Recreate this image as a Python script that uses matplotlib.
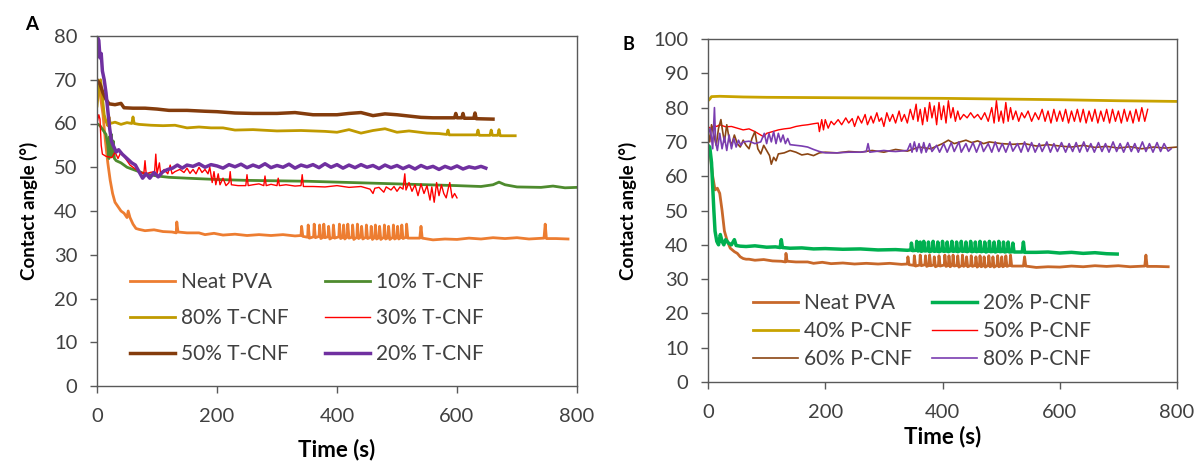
import matplotlib
matplotlib.use("Agg")
import matplotlib.pyplot as plt
import numpy as np

plt.rcParams["font.family"] = ["Lato", "DejaVu Sans"]

# ---------- panel A : T-CNF films ----------
neat_a_start = [(0, 66), (3, 69), (6, 66), (10, 62), (14, 56), (18, 51), (22, 47), (26, 44),
                (30, 42), (35, 41), (40, 40), (45, 39.5), (50, 38.5), (52, 40), (55, 38.5),
                (60, 37), (65, 36)]
neat_b_start = [(0, 68), (4, 66), (8, 60), (12, 56), (16, 56.5), (20, 55), (24, 50), (28, 44),
                (33, 41), (38, 39), (45, 38), (50, 37.5), (55, 36.5), (60, 36), (65, 35.8)]
neat_tail = [(70, 35.8), (80, 35.5), (95, 35.7), (110, 35.3), (125, 35.2), (132, 35.0), (133, 37.5),
             (135, 35.2), (150, 35.0), (170, 35.0), (180, 34.6), (195, 34.9), (210, 34.5), (230, 34.7),
             (250, 34.4), (270, 34.6), (290, 34.4), (310, 34.6), (330, 34.3), (340, 34.4),
             (341, 36.5), (343, 34.2), (351, 34.0), (352, 36.8), (354, 33.8), (361, 34.1), (362, 37.0),
             (364, 33.9), (370, 34.2), (371, 36.8), (373, 33.7), (377, 34.0), (378, 37.0), (380, 33.9),
             (385, 34.1), (386, 36.5), (388, 33.6), (393, 34.0), (394, 36.8), (396, 33.8), (403, 34.1),
             (404, 37.0), (406, 33.7), (410, 34.0), (411, 36.8), (413, 33.6), (417, 34.1), (418, 37.0),
             (420, 33.8), (425, 34.0), (426, 36.8), (428, 33.5), (433, 34.0), (434, 37.0), (436, 33.7),
             (440, 34.1), (441, 36.5), (443, 33.6), (448, 34.0), (449, 36.8), (451, 33.7), (456, 34.0),
             (457, 36.5), (459, 33.5), (463, 34.0), (464, 36.8), (466, 33.6), (470, 33.9), (471, 36.5),
             (473, 33.5), (478, 34.0), (479, 36.8), (481, 33.6), (485, 33.9), (486, 36.5), (488, 33.5),
             (493, 34.0), (494, 36.8), (496, 33.6), (500, 33.9), (501, 36.5), (503, 33.6), (507, 34.0),
             (508, 36.8), (510, 33.7), (515, 34.0), (516, 37.0), (518, 33.8), (530, 33.8), (538, 33.8),
             (540, 36.5), (542, 33.8), (560, 33.4), (580, 33.6), (600, 33.5), (620, 33.8), (640, 33.6),
             (660, 33.9), (680, 33.7), (700, 33.9), (720, 33.6), (745, 33.8), (747, 37.0), (749, 33.7),
             (765, 33.7), (785, 33.6)]

tcnf10 = [(0, 60), (5, 59.5), (10, 58.5), (15, 57.5), (18, 55), (20, 52), (21, 57), (23, 52.5),
          (24, 57.5), (26, 53), (27, 56), (29, 52), (32, 51.5), (40, 51), (50, 50), (60, 49.5),
          (70, 49), (80, 48.5), (100, 48), (120, 47.7), (150, 47.5), (200, 47.2), (250, 47.0),
          (300, 46.9), (350, 46.8), (400, 46.6), (450, 46.4), (500, 46.2), (550, 46.0), (600, 45.8),
          (640, 45.6), (660, 46.0), (670, 46.6), (680, 46.0), (700, 45.5), (740, 45.4), (760, 45.7),
          (780, 45.3), (800, 45.4)]

tcnf80 = [(0, 64), (3, 68), (6, 70), (9, 66), (12, 62), (15, 60.5), (18, 59.5), (20, 61.5), (22, 60),
          (30, 60.3), (40, 59.8), (50, 60.2), (58, 60.0), (60, 61.5), (62, 60.0), (70, 59.8), (90, 59.6),
          (110, 59.5), (130, 59.6), (150, 59.0), (170, 59.2), (190, 59.0), (210, 59.0), (230, 58.5),
          (260, 58.6), (300, 58.3), (340, 58.4), (380, 58.2), (400, 58.0), (420, 58.6), (440, 57.8),
          (460, 58.4), (480, 58.8), (500, 58.0), (520, 58.3), (550, 57.8), (570, 57.7), (583, 57.5),
          (585, 58.5), (587, 57.4), (620, 57.4), (633, 57.4), (635, 58.5), (637, 57.3), (655, 57.3),
          (657, 58.5), (659, 57.3), (668, 57.3), (670, 58.6), (672, 57.2), (697, 57.2)]

tcnf50 = [(0, 70), (5, 69), (10, 67), (15, 65.5), (20, 64.5), (30, 64.3), (40, 64.6), (45, 63.6),
          (60, 63.5), (80, 63.5), (100, 63.3), (120, 63.0), (150, 63.0), (180, 62.8), (200, 62.7),
          (230, 62.4), (260, 62.3), (300, 62.3), (330, 62.5), (360, 62.0), (400, 62.0), (420, 62.3),
          (440, 62.5), (460, 61.8), (480, 62.2), (500, 62.0), (520, 61.7), (540, 61.4), (560, 61.3),
          (580, 61.3), (596, 61.3), (598, 62.3), (600, 61.3), (608, 61.3), (610, 62.3), (612, 61.2),
          (628, 61.2), (630, 62.4), (632, 61.1), (660, 61.0)]

tcnf20 = [(0, 80), (3, 79), (5, 75), (7, 76), (9, 72), (12, 70), (15, 67), (18, 63), (21, 59),
          (24, 56), (27, 55), (32, 53.5), (36, 54), (42, 53), (50, 52), (58, 51), (64, 50.5),
          (70, 49), (76, 47.5), (82, 48.5), (88, 47.5), (95, 48.8), (102, 47.8), (110, 49),
          (118, 49.5), (126, 49.8), (134, 50.5), (142, 49.8), (150, 50.5), (160, 50.2), (170, 50.8),
          (180, 50.0), (190, 50.6), (200, 50.3), (210, 49.8), (220, 50.6), (230, 50.1), (240, 50.7),
          (250, 49.9), (260, 50.5), (270, 50.0), (280, 50.8), (290, 49.9), (300, 50.4), (310, 50.0),
          (320, 50.7), (330, 49.8), (340, 50.5), (350, 50.1), (360, 50.6), (370, 49.9), (380, 50.8),
          (390, 50.0), (400, 50.6), (410, 49.8), (420, 50.5), (430, 49.9), (440, 50.6), (450, 50.0),
          (460, 50.4), (470, 49.7), (480, 50.5), (490, 49.9), (500, 50.4), (510, 49.7), (520, 50.3),
          (530, 49.6), (540, 50.4), (550, 49.8), (560, 50.2), (570, 49.5), (580, 50.2), (590, 49.7),
          (600, 50.3), (610, 49.6), (620, 50.1), (630, 49.8), (640, 50.2), (648, 49.8)]

tcnf30 = [(0, 60), (3, 62), (5, 61), (7, 55), (9, 53), (15, 52.5), (25, 52.2), (30, 53.5), (35, 52),
          (40, 53.5), (45, 52.5), (50, 51.5), (55, 50.5), (60, 50), (65, 49.5), (72, 49.0), (78, 48.5),
          (80, 51.5), (82, 48.5), (88, 48.8), (96, 49.0), (98, 53), (100, 48.5), (104, 51), (106, 48.5),
          (112, 49.5), (118, 48.5), (122, 50.5), (125, 48.5), (130, 49), (138, 49.5), (145, 48.8),
          (150, 49.8), (155, 48.6), (160, 49.5), (165, 48.5), (170, 50.0), (175, 48.8), (180, 49.5),
          (185, 48.5), (188, 50), (192, 46.5), (195, 49), (198, 46.0), (202, 48.5), (205, 46),
          (210, 47.5), (215, 45.8), (220, 46.5), (222, 49), (224, 46), (235, 45.8), (248, 45.8),
          (250, 48.3), (252, 45.8), (260, 46.0), (270, 46.2), (278, 45.8), (280, 48), (282, 45.8),
          (290, 46.1), (300, 45.8), (302, 47.5), (304, 45.8), (315, 46.0), (330, 45.7), (340, 45.8),
          (342, 48.3), (344, 45.6), (360, 45.6), (380, 45.5), (400, 45.8), (420, 45.4), (440, 45.6),
          (455, 45.0), (460, 44.0), (463, 45.2), (470, 45.4), (478, 44.3), (482, 45.5), (490, 44.8),
          (495, 45.6), (500, 44.5), (505, 45.5), (510, 45.0), (513, 48.5), (515, 44.8), (520, 46.5),
          (525, 44.5), (530, 46.0), (535, 43.5), (540, 46.2), (545, 44.0), (550, 45.8), (555, 42.5),
          (558, 45.5), (562, 42.0), (566, 46.5), (570, 43.5), (574, 46.0), (578, 44.0), (582, 43.0),
          (586, 45.5), (588, 46.5), (592, 43.0), (596, 44.0), (600, 43.0)]

# ---------- panel B : P-CNF films ----------
pcnf20 = [(0, 69), (3, 68.5), (6, 64), (8, 57), (10, 50), (12, 44), (15, 41), (18, 40), (21, 43),
          (24, 41), (27, 40), (30, 41.5), (35, 40.5), (40, 40), (45, 41.5), (48, 39.8), (55, 39.6),
          (65, 39.5), (80, 39.7), (100, 39.3), (115, 39.4), (123, 39.2), (125, 41.5), (127, 39.2),
          (140, 39.0), (160, 39.1), (180, 38.8), (200, 38.9), (230, 38.7), (260, 38.8), (290, 38.5),
          (320, 38.6), (340, 38.4), (346, 38.5), (347, 40.5), (349, 38.3), (355, 38.4), (356, 41.0),
          (358, 38.2), (361, 38.3), (362, 40.8), (364, 38.1), (367, 38.3), (368, 41.0), (370, 38.2),
          (375, 38.3), (376, 40.8), (378, 38.0), (383, 38.3), (384, 41.0), (386, 38.1), (391, 38.2),
          (392, 40.8), (394, 38.0), (399, 38.3), (400, 41.0), (402, 38.1), (407, 38.2), (408, 40.8),
          (410, 38.0), (415, 38.3), (416, 41.0), (418, 38.1), (423, 38.2), (424, 40.8), (426, 38.0),
          (431, 38.3), (432, 41.0), (434, 38.1), (439, 38.2), (440, 40.8), (442, 38.0), (447, 38.3),
          (448, 41.0), (450, 38.0), (455, 38.2), (456, 40.8), (458, 38.0), (463, 38.2), (464, 41.0),
          (466, 38.0), (471, 38.2), (472, 40.8), (474, 37.9), (479, 38.2), (480, 41.0), (482, 38.0),
          (487, 38.1), (488, 40.8), (490, 37.9), (495, 38.2), (496, 41.0), (498, 38.0), (503, 38.1),
          (504, 40.8), (506, 37.9), (511, 38.1), (512, 40.8), (514, 37.9), (519, 38.0), (520, 40.5),
          (522, 37.9), (536, 37.9), (538, 40.8), (540, 37.8), (560, 37.8), (580, 37.9), (600, 37.6),
          (620, 37.8), (640, 37.5), (660, 37.7), (680, 37.4), (698, 37.3)]

pcnf40 = [(0, 82), (3, 82.5), (6, 83.2), (20, 83.3), (60, 83.1), (100, 83.0), (200, 82.9), (300, 82.8),
          (400, 82.7), (500, 82.5), (600, 82.3), (700, 82.0), (800, 81.8)]

pcnf50 = [(0, 74.5), (5, 73.8), (10, 74.8), (15, 74.5), (20, 75.0), (30, 74.4), (40, 74.5), (50, 74.0),
          (60, 73.5), (70, 73.8), (80, 73.0), (90, 72.0), (95, 71.5), (100, 72.5), (110, 73.0),
          (120, 73.5), (130, 73.8), (140, 74.0), (150, 74.5), (160, 74.8), (170, 75.0), (180, 75.3),
          (188, 75.5), (190, 73), (194, 76.5), (197, 73.5), (200, 76.5), (205, 74), (210, 76),
          (215, 75), (222, 76.5), (228, 75), (235, 77), (240, 75.5), (246, 76.8), (250, 74.5),
          (256, 77.5), (262, 75.5), (268, 78), (272, 75), (278, 77.5), (282, 75.5), (288, 78.5),
          (292, 76), (296, 77), (300, 74.5), (305, 78.5), (310, 76), (315, 78), (320, 75.5), (326, 79),
          (330, 76), (335, 78), (340, 75.5), (345, 79.5), (350, 76.5), (355, 81), (358, 76),
          (362, 79.5), (366, 75), (370, 80), (374, 76), (378, 81.5), (382, 77), (386, 80.5), (390, 75),
          (394, 81.5), (398, 76.5), (402, 80.5), (406, 75.5), (410, 82), (414, 77), (418, 80),
          (422, 76), (426, 79), (430, 76.5), (436, 78), (442, 77), (448, 78.5), (454, 77), (460, 78),
          (466, 76.5), (472, 78.5), (478, 76), (484, 80), (488, 75.5), (492, 82), (496, 76), (500, 79),
          (504, 75.5), (508, 81.5), (512, 76), (516, 80), (520, 76.5), (525, 79), (530, 76),
          (535, 78.5), (540, 77), (546, 79), (552, 76), (558, 78.5), (564, 76.5), (570, 79.5),
          (575, 76), (580, 79), (585, 75.5), (590, 79.5), (595, 76), (600, 79), (605, 76), (610, 79.5),
          (615, 75.5), (620, 79), (625, 76), (630, 79.5), (635, 75.8), (640, 79.5), (645, 75.5),
          (650, 79), (655, 76), (660, 79.5), (665, 75.5), (670, 79), (675, 76), (680, 79.5),
          (685, 75.5), (690, 79.5), (695, 76), (700, 79), (705, 75.5), (710, 79.5), (715, 76),
          (720, 79), (725, 75.5), (730, 79.5), (735, 76), (740, 80), (745, 76), (750, 79.5)]

pcnf60 = [(0, 73), (3, 70), (6, 75), (10, 72), (14, 69), (18, 74), (22, 76.5), (25, 73), (28, 70),
          (32, 75), (36, 71), (40, 69), (45, 72), (50, 69.5), (55, 68.5), (60, 70.5), (65, 69),
          (70, 68), (75, 71), (80, 73), (85, 68), (90, 66.5), (95, 69), (100, 67.5), (105, 66),
          (108, 63.5), (112, 65.5), (116, 64.5), (120, 66.5), (130, 66.8), (140, 67.5), (150, 67.0),
          (160, 66.2), (170, 66.5), (180, 66.0), (190, 66.8), (200, 67.0), (220, 66.8), (240, 67.2),
          (260, 67.0), (280, 67.5), (300, 67.0), (320, 67.8), (340, 67.3), (360, 68.5), (380, 68.0),
          (400, 69.5), (410, 70.5), (420, 69.5), (430, 70.0), (440, 70.5), (450, 69.8), (460, 70.3),
          (470, 69.5), (480, 70.0), (500, 69.5), (520, 69.3), (540, 69.5), (560, 68.8), (580, 69.2),
          (600, 68.8), (620, 68.5), (640, 69.0), (660, 68.4), (680, 68.7), (700, 68.2), (720, 68.6),
          (740, 68.0), (760, 68.5), (780, 68.2), (800, 68.5)]

pcnf80 = [(0, 72), (4, 74), (8, 68), (11, 80), (13, 70), (16, 67.5), (20, 72.5), (24, 68), (28, 71.5),
          (32, 67.5), (36, 72), (40, 68), (44, 71), (48, 68.5), (52, 70.5), (56, 69), (60, 70),
          (70, 70.2), (80, 69.5), (90, 70.0), (96, 72.5), (100, 69.5), (104, 72.5), (108, 70),
          (112, 73), (116, 69.5), (120, 72.5), (124, 70), (128, 72), (132, 69.5), (136, 71),
          (140, 69.2), (150, 69.0), (160, 68.8), (170, 68.5), (180, 67.8), (190, 67.2), (200, 66.8),
          (220, 66.8), (240, 67.0), (260, 67.0), (270, 67.2), (273, 69.5), (276, 67), (285, 67.2),
          (300, 67.5), (310, 67.3), (320, 67.2), (340, 67.5), (345, 69.5), (348, 67), (352, 70),
          (356, 67.2), (360, 69.5), (364, 66.8), (368, 69.8), (372, 67), (378, 69.5), (382, 67.2),
          (390, 69), (395, 67.0), (402, 69.5), (408, 67.0), (415, 69.8), (420, 67.2), (428, 70),
          (432, 67.0), (440, 69.5), (445, 67.2), (452, 69.8), (458, 67.0), (465, 70), (470, 67.2),
          (478, 69.5), (484, 67.0), (490, 70), (496, 67.2), (502, 69.5), (508, 67.0), (515, 70),
          (520, 67.3), (528, 69.5), (534, 67.0), (540, 70), (546, 67.2), (552, 69.8), (558, 67.0),
          (565, 69.5), (570, 67.2), (578, 70), (584, 67.0), (590, 69.5), (596, 67.2), (603, 69.8),
          (610, 67.0), (616, 69.5), (622, 67.2), (628, 69.8), (634, 67.0), (641, 70), (647, 67.2),
          (653, 69.5), (659, 67.0), (666, 69.8), (672, 67.2), (678, 69.5), (684, 67.0), (691, 70),
          (697, 67.2), (703, 69.5), (709, 67.0), (716, 69.8), (722, 67.2), (728, 69.5), (734, 67.0),
          (741, 70), (747, 67.2), (753, 69.5), (759, 67.0), (766, 69.8), (772, 67.2), (778, 69.5),
          (785, 67.3), (790, 68)]

# (label, data, colour, linewidth), in legend order (row by row)
series_a = [
    ("Neat PVA", neat_a_start + neat_tail, "#ED7D31", 2.0),
    ("10% T-CNF", tcnf10, "#4E8B2E", 2.0),
    ("80% T-CNF", tcnf80, "#C09A00", 2.0),
    ("30% T-CNF", tcnf30, "#FF0000", 1.0),
    ("50% T-CNF", tcnf50, "#843C0C", 2.5),
    ("20% T-CNF", tcnf20, "#7030A0", 2.5),
]
series_b = [
    ("Neat PVA", neat_b_start + neat_tail, "#C8682A", 2.0),
    ("20% P-CNF", pcnf20, "#00B050", 2.5),
    ("40% P-CNF", pcnf40, "#C9A300", 2.0),
    ("50% P-CNF", pcnf50, "#FF0000", 1.0),
    ("60% P-CNF", pcnf60, "#8B4513", 1.2),
    ("80% P-CNF", pcnf80, "#7A3DB0", 1.2),
]

W, H = 1198, 466
fig = plt.figure(figsize=(W / 100, H / 100), dpi=100)
ax_a = fig.add_axes([97 / W, 80 / H, 480 / W, 350 / H])
ax_b = fig.add_axes([708 / W, 84 / H, 469 / W, 343 / H])

tick_col = "#404040"


def draw(ax, series, ymax, xlabelpad, legend_xy, labelspacing, colspacing):
    handles = []
    for label, pts, color, lw in series:
        t, v = np.array(pts).T
        h, = ax.plot(t, v, color=color, lw=lw, label=label, solid_joinstyle="round")
        handles.append(h)
    ax.set_xlim(0, 800)
    ax.set_ylim(0, ymax)
    ax.set_xticks(np.arange(0, 801, 200))
    ax.set_yticks(np.arange(0, ymax + 1, 10))
    for s in ax.spines.values():
        s.set_color("#595959")
        s.set_linewidth(1.0)
    ax.tick_params(direction="out", length=5, width=1, color="#595959",
                   labelsize=14.5, labelcolor=tick_col)
    ax.tick_params(axis="x", pad=10.5)
    ax.tick_params(axis="y", pad=9)
    ax.set_xlabel("Time (s)", fontsize=16, fontweight="bold", labelpad=xlabelpad)
    ax.set_ylabel("Contact angle (°)", fontsize=13.5, fontweight="bold", labelpad=11.5)
    # matplotlib fills legend columns first, so reorder to read row by row
    order = handles[0::2] + handles[1::2]
    ax.legend(handles=order, ncol=2, frameon=False, fontsize=15,
              loc="upper left", bbox_to_anchor=legend_xy, bbox_transform=fig.transFigure,
              borderpad=0, borderaxespad=0, handlelength=2.15, handletextpad=0.3,
              labelspacing=labelspacing, columnspacing=colspacing, labelcolor=tick_col)


draw(ax_a, series_a, 80, 10, (130 / W, 1 - 272 / H), 0.77, 1.75)
draw(ax_b, series_b, 100, 3.5, (753 / W, 1 - 293 / H), 0.39, 0.95)

fig.text(32 / W, 1 - 25 / H, "A", fontsize=13.5, fontweight="bold", ha="center", va="center")
fig.text(628 / W, 1 - 44 / H, "B", fontsize=13, fontweight="bold", ha="center", va="center")

fig.savefig("out.png", dpi=100)
